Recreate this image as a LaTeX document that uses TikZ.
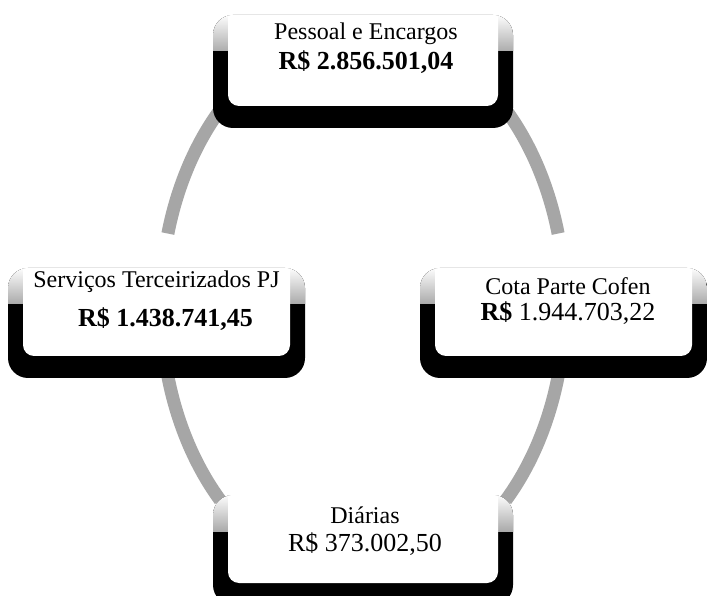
\documentclass[tikz,border=0pt]{standalone}
\usepackage{fontspec}
\setmainfont{Liberation Serif}

\definecolor{arcgray}{RGB}{166,166,166}
\newcommand{\valfont}{\fontsize{26}{30}\selectfont}

\begin{document}
\begin{tikzpicture}[x=1pt,y=1pt,
  cycle box/.style={rectangle,fill=black,rounded corners=20pt,
    minimum height=110pt,inner sep=0pt,
    path picture={
      \shade[sharp corners,top color=white,bottom color=black]
        ([yshift=1pt]path picture bounding box.north west) rectangle
        ([yshift=-36pt]path picture bounding box.north east);
      \fill[white,rounded corners=11pt]
        ([xshift=15pt,yshift=20pt]path picture bounding box.north west) rectangle
        ([xshift=-15pt,yshift=22pt]path picture bounding box.south east);
    }},
  box text/.style={align=center,font=\fontsize{24}{30}\selectfont},
  cycle arc/.style={draw=arcgray,line width=13pt}]

  \useasboundingbox[fill=white] (0,0) rectangle (707,595);

  % the ring behind the four boxes
  \coordinate (hub) at (363,290);
  \foreach \a in {15,135,195,315}
    \draw[cycle arc] ([shift={(\a:202 and 276)}]hub)
      arc[start angle=\a,end angle=\a+30,x radius=202,y radius=276];

  \node[cycle box,minimum width=300pt,minimum height=113pt] (pessoal) at (363,523.5) {};
  \node[cycle box,minimum width=297pt] (servicos) at (156.5,272) {};
  \node[cycle box,minimum width=287pt] (cota) at (563.5,272) {};
  \node[cycle box,minimum width=300pt] (diarias) at (363,45) {};

  \node[box text] (pessoal text) at ([xshift=3pt,yshift=23pt]pessoal.center)
    {Pessoal e Encargos\\{\valfont\bfseries R\$ 2.856.501,04}};
  \node[box text] (servicos text) at ([yshift=22pt]servicos.center)
    {Serviços Terceirizados PJ\\[9pt]\hspace*{18pt}{\valfont\bfseries R\$ 1.438.741,45}};
  \node[box text] (cota text) at ([xshift=4.5pt,yshift=22pt]cota.center)
    {Cota Parte Cofen\\[-4pt]{\valfont\textbf{R\$} 1.944.703,22}};
  \node[box text] (diarias text) at ([xshift=2pt,yshift=19pt]diarias.center)
    {Diárias\\[-2pt]{\valfont R\$ 373.002,50}};
\end{tikzpicture}
\end{document}
